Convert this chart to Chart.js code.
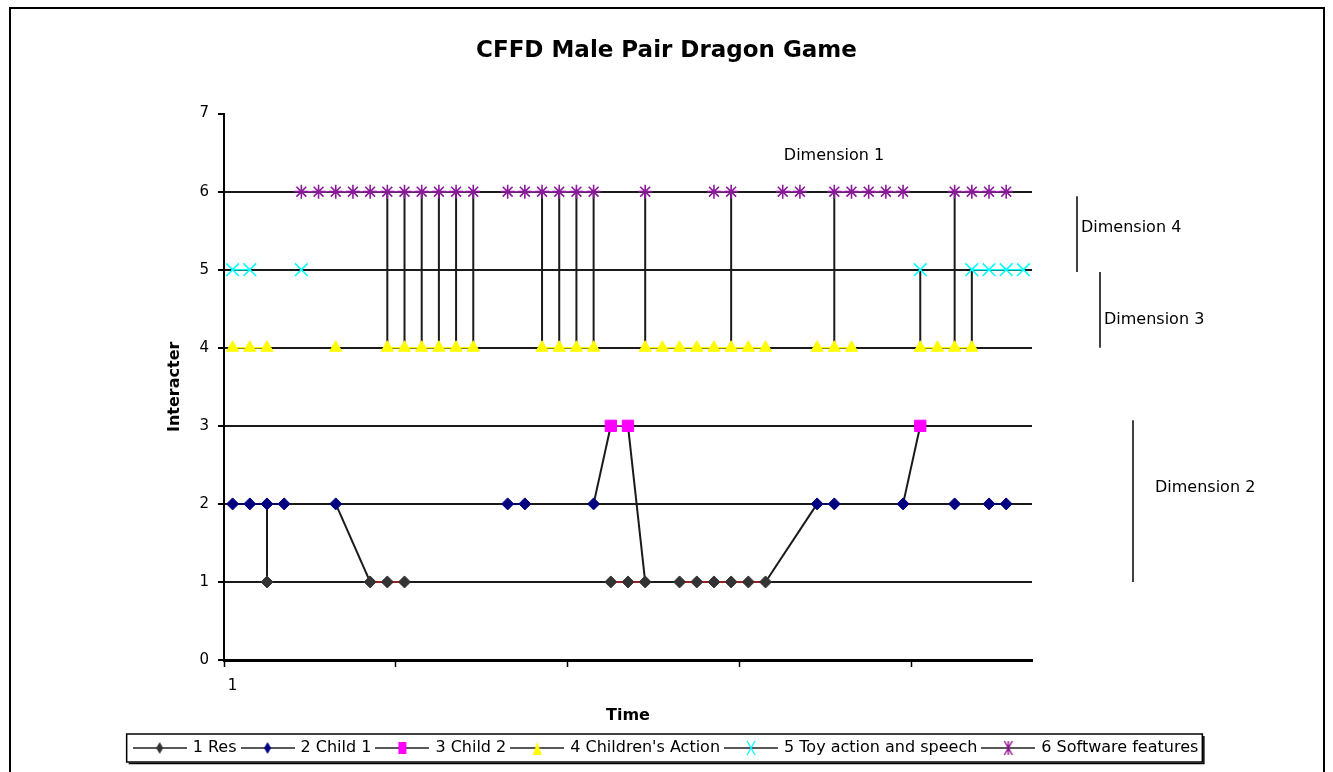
<!DOCTYPE html>
<html>
<head>
<meta charset="utf-8">
<script src="https://cdn.jsdelivr.net/npm/chart.js@4"></script>
<style>
  html, body { margin: 0; padding: 0; background: #fff; }
</style>
</head>
<body>
<canvas id="dragonChart" width="1333" height="772"></canvas>
<script>
// time steps 1..47, one value per step, null = no event
const _ = null;
const timeLabels = ['1','2','3','4','5','6','7','8','9','10','11','12','13','14','15','16','17','18','19','20',
  '21','22','23','24','25','26','27','28','29','30','31','32','33','34','35','36','37','38','39','40',
  '41','42','43','44','45','46','47'];

const seriesNames = ['1 Res', '2 Child 1', '3 Child 2', "4 Children's Action", '5 Toy action and speech', '6 Software features'];

const res      = [_,_,1,_,_,_,_,_,1,1, 1,_,_,_,_,_,_,_,_,_, _,_,1,1,1,_,1,1,1,1, 1,1,_,_,_,_,_,_,_,_, _,_,_,_,_,_,_];
const child1   = [2,2,2,2,_,_,2,_,_,_, _,_,_,_,_,_,2,2,_,_, _,2,_,_,_,_,_,_,_,_, _,_,_,_,2,2,_,_,_,2, _,_,2,_,2,2,_];
const child2   = [_,_,_,_,_,_,_,_,_,_, _,_,_,_,_,_,_,_,_,_, _,_,3,3,_,_,_,_,_,_, _,_,_,_,_,_,_,_,_,_, 3,_,_,_,_,_,_];
const action   = [4,4,4,_,_,_,4,_,_,4, 4,4,4,4,4,_,_,_,4,4, 4,4,_,_,4,4,4,4,4,4, 4,4,_,_,4,4,4,_,_,_, 4,4,4,4,_,_,_];
const toy      = [5,5,_,_,5,_,_,_,_,_, _,_,_,_,_,_,_,_,_,_, _,_,_,_,_,_,_,_,_,_, _,_,_,_,_,_,_,_,_,_, 5,_,_,5,5,5,5];
const software = [_,_,_,_,6,6,6,6,6,6, 6,6,6,6,6,_,6,6,6,6, 6,6,_,_,6,_,_,_,6,6, _,_,6,6,_,6,6,6,6,6, _,_,6,6,6,6,_];

// hand-drawn transitions between interacters: [time, value, time, value]
const connectorLinks = [
  [3, 2, 3, 1], [7, 2, 9, 1],
  [10, 4, 10, 6], [11, 4, 11, 6], [12, 4, 12, 6], [13, 4, 13, 6], [14, 4, 14, 6], [15, 4, 15, 6],
  [19, 4, 19, 6], [20, 4, 20, 6], [21, 4, 21, 6], [22, 4, 22, 6],
  [22, 2, 23, 3], [24, 3, 25, 1],
  [25, 4, 25, 6], [30, 4, 30, 6], [32, 1, 35, 2], [36, 4, 36, 6],
  [40, 2, 41, 3], [41, 4, 41, 5], [43, 4, 43, 6], [44, 4, 44, 5]
];

// dimension brackets on the right, in y units
const dimensionLabels = ['Dimension 1', 'Dimension 4', 'Dimension 3', 'Dimension 2'];
const dimensionSpans = [null, [5.94, 4.97], [4.97, 4.0], [3.07, 1.0]];
const dimensionTextY = [6.46, 5.54, 4.36, 2.2];

const FONT = "'DejaVu Sans', sans-serif";

function legendIcon(style, fill, stroke) {
  const c = document.createElement('canvas');
  c.width = 54; c.height = 16;
  const g = c.getContext('2d');
  g.strokeStyle = '#222';
  g.lineWidth = 1.5;
  g.beginPath(); g.moveTo(0, 8); g.lineTo(54, 8); g.stroke();
  const cx = 27, cy = 8;
  g.fillStyle = fill;
  g.strokeStyle = stroke;
  g.lineWidth = 1.3;
  g.beginPath();
  if (style === 'diamond') {
    g.moveTo(cx, cy - 6); g.lineTo(cx + 3.5, cy); g.lineTo(cx, cy + 6); g.lineTo(cx - 3.5, cy); g.closePath(); g.fill();
  } else if (style === 'square') {
    g.rect(cx - 4, cy - 6, 8, 12); g.fill();
  } else if (style === 'triangle') {
    g.moveTo(cx, cy - 6); g.lineTo(cx + 4.5, cy + 7); g.lineTo(cx - 4.5, cy + 7); g.closePath(); g.fill();
  } else if (style === 'x') {
    g.moveTo(cx - 4, cy - 7); g.lineTo(cx + 4, cy + 7); g.moveTo(cx + 4, cy - 7); g.lineTo(cx - 4, cy + 7); g.stroke();
  } else if (style === 'star') {
    g.moveTo(cx - 4, cy - 7); g.lineTo(cx + 4, cy + 7); g.moveTo(cx + 4, cy - 7); g.lineTo(cx - 4, cy + 7);
    g.moveTo(cx, cy - 7); g.lineTo(cx, cy + 7); g.stroke();
  }
  return c;
}

const legendIcons = [
  legendIcon('diamond', '#333333', '#333333'),
  legendIcon('diamond', '#000080', '#000080'),
  legendIcon('square', '#ff00ff', '#ff00ff'),
  legendIcon('triangle', '#ffff00', '#ffff00'),
  legendIcon('x', '#00ffff', '#00ffff'),
  legendIcon('star', '#8b008b', '#8b008b')
];

const overlay = {
  id: 'overlay',
  beforeDatasetsDraw(chart) {
    const { ctx, scales: { x, y } } = chart;
    ctx.save();
    ctx.strokeStyle = '#1a1a1a';
    ctx.lineWidth = 2;
    connectorLinks.forEach(([t1, v1, t2, v2]) => {
      ctx.beginPath();
      ctx.moveTo(x.getPixelForValue(t1 - 1), y.getPixelForValue(v1));
      ctx.lineTo(x.getPixelForValue(t2 - 1), y.getPixelForValue(v2));
      ctx.stroke();
    });
    ctx.restore();
  },
  afterDraw(chart) {
    const { ctx, chartArea, scales: { y } } = chart;
    ctx.save();
    // outer frame
    ctx.strokeStyle = '#000';
    ctx.lineWidth = 2;
    ctx.strokeRect(10, 8, 1314, 800);

    // legend box
    const lg = chart.legend;
    const hb = lg.legendHitBoxes;
    const l = Math.min(...hb.map(h => h.left)) - 8;
    const r = Math.max(...hb.map(h => h.left + h.width)) + 4;
    const t = Math.min(...hb.map(h => h.top)) - 6;
    const b = Math.max(...hb.map(h => h.top + h.height)) + 6;
    ctx.lineWidth = 1.5;
    ctx.strokeRect(l, t, r - l, b - t);
    ctx.beginPath();
    ctx.moveTo(l + 2, b + 1.5); ctx.lineTo(r + 1.5, b + 1.5); ctx.lineTo(r + 1.5, t + 2);
    ctx.stroke();

    // dimension annotations
    const lineX = [null, 45, 68, 101];
    const textX = [-198, 49, 72, 123];
    ctx.font = '16px ' + FONT;
    ctx.fillStyle = '#000';
    ctx.textBaseline = 'middle';
    ctx.lineWidth = 1.5;
    dimensionLabels.forEach((label, i) => {
      const span = dimensionSpans[i];
      if (span) {
        const lx = chartArea.right + lineX[i];
        ctx.beginPath();
        ctx.moveTo(lx, y.getPixelForValue(span[0]));
        ctx.lineTo(lx, y.getPixelForValue(span[1]));
        ctx.stroke();
      }
      ctx.textAlign = span ? 'left' : 'center';
      ctx.fillText(label, chartArea.right + textX[i], y.getPixelForValue(dimensionTextY[i]));
    });
    ctx.restore();
  }
};

function series(idx, data, style, radius, fill, border, line, bw) {
  return {
    label: seriesNames[idx],
    data: data,
    borderColor: line,
    borderWidth: 1.5,
    backgroundColor: fill,
    pointStyle: style,
    pointRadius: radius,
    pointHoverRadius: radius,
    pointBackgroundColor: fill,
    pointBorderColor: border,
    pointBorderWidth: bw,
    spanGaps: false,
    tension: 0
  };
}

const ctx = document.getElementById('dragonChart').getContext('2d');
new Chart(ctx, {
  type: 'line',
  data: {
    labels: timeLabels,
    datasets: [
      series(0, res, 'rectRot', 6, '#333333', '#333333', '#cc2222', 1),
      series(1, child1, 'rectRot', 6, '#000080', '#000080', '#000080', 1),
      series(2, child2, 'rect', 8, '#ff00ff', '#ff00ff', '#ff00ff', 1),
      series(3, action, 'triangle', 7, '#ffff00', '#ffff00', '#ffff00', 1),
      series(4, toy, 'crossRot', 9, '#00ffff', '#00ffff', '#00ffff', 1.5),
      series(5, software, 'star', 7, '#800080', '#8a1a9a', '#a030b0', 1.6)
    ]
  },
  options: {
    responsive: false,
    animation: false,
    layout: { padding: { left: 10, right: 10, top: 0, bottom: 6 } },
    plugins: {
      title: {
        display: true,
        text: 'CFFD Male Pair Dragon Game',
        color: '#000',
        font: { family: FONT, size: 23, weight: 'bold' },
        padding: { top: 37, bottom: 49 }
      },
      legend: {
        position: 'bottom',
        labels: {
          usePointStyle: true,
          pointStyleWidth: 50,
          padding: 6,
          color: '#000',
          font: { family: FONT, size: 16 },
          generateLabels: chart => chart.data.datasets.map((ds, i) => ({
            text: ds.label,
            pointStyle: legendIcons[i],
            fillStyle: ds.backgroundColor,
            strokeStyle: ds.borderColor,
            lineWidth: 0,
            hidden: false,
            datasetIndex: i
          }))
        }
      },
      tooltip: { enabled: false }
    },
    scales: {
      x: {
        type: 'category',
        offset: true,
        grid: {
          offset: true,
          drawOnChartArea: false,
          tickLength: 7,
          tickColor: c => (c.index % 10 === 0 ? '#000' : 'rgba(0,0,0,0)'),
          tickWidth: 1.5
        },
        border: { color: '#000', width: 3 },
        ticks: {
          autoSkip: false,
          maxRotation: 0,
          padding: 10,
          color: '#000',
          font: { family: FONT, size: 15 },
          callback: (v, i) => (i === 0 ? timeLabels[i] : '')
        },
        title: {
          display: true,
          text: 'Time',
          color: '#000',
          font: { family: FONT, size: 16, weight: 'bold' },
          padding: { top: 0, bottom: 9 }
        },
        afterFit: s => { s.height = 772 - 6 - s.chart.legend.height - 660; }
      },
      y: {
        min: 0,
        max: 7,
        ticks: {
          stepSize: 1,
          padding: 9,
          color: '#000',
          font: { family: FONT, size: 15 }
        },
        grid: {
          color: c => (c.tick && c.tick.value > 0 && c.tick.value < 7 ? '#1a1a1a' : 'rgba(0,0,0,0)'),
          lineWidth: 2,
          tickColor: '#000',
          tickLength: 6
        },
        border: { color: '#000', width: 2 },
        title: {
          display: true,
          text: 'Interacter',
          color: '#000',
          font: { family: FONT, size: 16, weight: 'bold' },
          padding: { top: 155, bottom: 0 }
        },
        afterFit: s => { s.width = 214; }
      },
      y2: {
        position: 'right',
        display: true,
        grid: { display: false },
        ticks: { display: false },
        border: { display: false },
        afterFit: s => { s.width = 291; }
      }
    }
  },
  plugins: [overlay]
});
</script>
</body>
</html>
